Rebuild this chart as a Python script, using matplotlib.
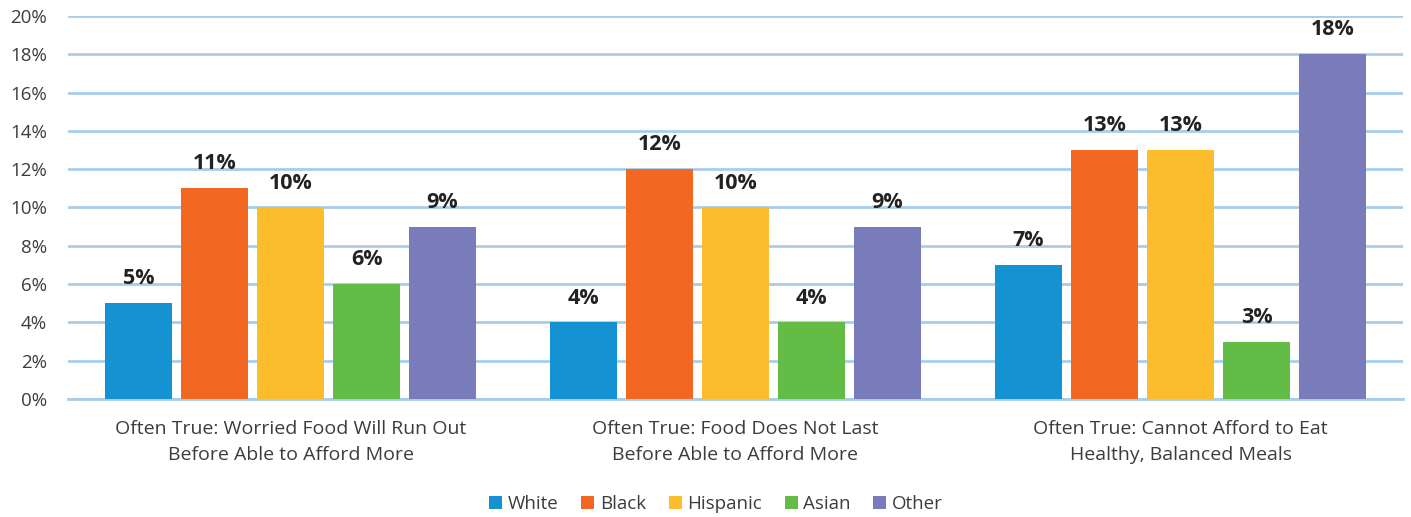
import matplotlib
matplotlib.use("Agg")
import matplotlib.pyplot as plt
import numpy as np

categories = [
    "Often True: Worried Food Will Run Out\nBefore Able to Afford More",
    "Often True: Food Does Not Last\nBefore Able to Afford More",
    "Often True: Cannot Afford to Eat\nHealthy, Balanced Meals",
]
groups = ["White", "Black", "Hispanic", "Asian", "Other"]
white = [5, 4, 7]
black = [11, 12, 13]
hispanic = [10, 10, 13]
asian = [6, 4, 3]
other = [9, 9, 18]
colors = ["#1592d2", "#f26822", "#fbbd2c", "#63bc46", "#7a7bba"]
yticks = [0, 2, 4, 6, 8, 10, 12, 14, 16, 18, 20]

series = [white, black, hispanic, asian, other]

plt.rcParams["font.family"] = ["Open Sans", "DejaVu Sans"]
text_color = "#3c3c3c"

fig = plt.figure(figsize=(14.11, 5.17), dpi=100)
ax = fig.add_axes([68 / 1411, 1 - 399 / 517, (1403 - 68) / 1411, (399 - 16) / 517])

x = np.arange(len(categories))
step = 0.1708
width = 0.1506
for i, (name, vals, col) in enumerate(zip(groups, series, colors)):
    pos = x + (i - 2) * step
    ax.bar(pos, vals, width=width, color=col, label=name, zorder=3)
    for p, v in zip(pos, vals):
        ax.annotate(f"{v}%", (p, v), xytext=(0, 10), textcoords="offset points",
                    ha="center", va="bottom", fontsize=15.5, fontweight="bold",
                    color="#222222")

ax.set_xlim(-0.5, 2.5)
ax.set_ylim(0, 20)
ax.set_yticks(yticks)
ax.set_yticklabels([f"{t}%" for t in yticks], fontsize=13.5, color=text_color)
ax.set_xticks(x)
ax.set_xticklabels(categories, fontsize=14, color=text_color, linespacing=1.55)
ax.tick_params(axis="both", length=0)
ax.tick_params(axis="y", pad=15)
ax.tick_params(axis="x", pad=15)
ax.grid(axis="y", color="#a8cdeb", linewidth=2, zorder=0)
for s in ["top", "right", "left"]:
    ax.spines[s].set_visible(False)
ax.spines["bottom"].set_color("#a8cdeb")
ax.spines["bottom"].set_linewidth(2)

leg = fig.legend(loc="center", bbox_to_anchor=(716 / 1411, 1 - 504 / 517), ncol=5,
                 frameon=False, fontsize=13.5, handlelength=0.7, handleheight=0.7,
                 handletextpad=0.3, columnspacing=1.2)
for t in leg.get_texts():
    t.set_color(text_color)

fig.savefig("out.png", dpi=100)
